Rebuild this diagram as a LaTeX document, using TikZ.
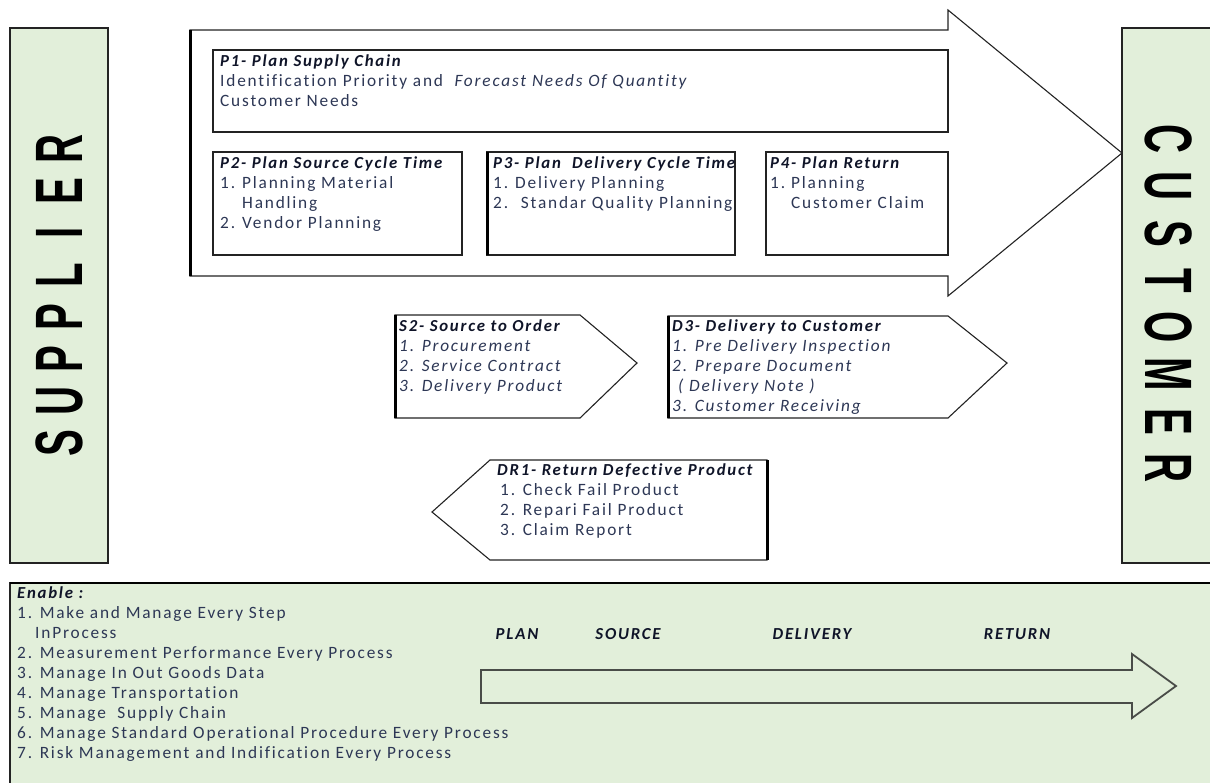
\documentclass[tikz,border=0pt]{standalone}
\usepackage{fontspec}
\usepackage{graphicx}
\newfontfamily\calib{Carlito}[LetterSpace=10.5, Ligatures=NoCommon]
\newfontfamily\bigsans{Liberation Sans}
\definecolor{panelgreen}{RGB}{226,239,218}
\definecolor{edgec}{RGB}{35,35,35}
\definecolor{bodyc}{RGB}{45,55,85}
\definecolor{headc}{RGB}{15,20,40}
\newcommand\hd[1]{{\fontsize{16.8}{20}\selectfont\bfseries\itshape\color{headc}#1}}
\newcommand\bigletter[2]{\makebox[#1]{\scalebox{0.6}[1]{#2}}}
\begin{document}
\begin{tikzpicture}[x=1pt,y=-1pt,
  panel/.style={draw=edgec, line width=1.3pt},
  thickedge/.style={draw=black, line width=3pt},
  txt/.style={font=\calib\fontsize{17.3}{20}\selectfont, text=bodyc, align=left, anchor=north west, inner sep=0pt},
  itxt/.style={txt, font=\calib\fontsize{17.3}{20}\selectfont\itshape},
  lbl/.style={font=\calib\fontsize{16.8}{20}\selectfont\bfseries\itshape, text=headc, inner sep=0pt},
  party/.style={font=\bigsans\fontsize{67}{67}\selectfont\bfseries, text=black, inner sep=0pt}]
\useasboundingbox (0,0) rectangle (1210,782);
\clip (0,0) rectangle (1210,782);

% side panels
\draw[panel, fill=panelgreen] (10,28) rectangle (108,563);
\node[party, rotate=90] (supplier) at (59,296)
  {\bigletter{42pt}{S}\bigletter{42pt}{U}\bigletter{42pt}{P}\bigletter{42pt}{P}\bigletter{42pt}{L}\bigletter{42pt}{I}\bigletter{42pt}{E}\bigletter{42pt}{R}};
\draw[panel, fill=panelgreen] (1122,28) rectangle (1220,563);
\node[party, rotate=-90] (customer) at (1169,304)
  {\bigletter{47pt}{C}\bigletter{47pt}{U}\bigletter{47pt}{S}\bigletter{47pt}{T}\bigletter{47pt}{O}\bigletter{47pt}{M}\bigletter{47pt}{E}\bigletter{47pt}{R}};

% planning arrow
\draw[panel, line width=1.1pt, fill=white] (190,30) -- (948,30) -- (948,10) -- (1122,153)
  -- (948,296) -- (948,276) -- (190,276) -- cycle;
\draw[thickedge] (190,30) -- (190,276);

% plan boxes
\draw[panel] (213,50) rectangle (948,132);
\node[txt] (p1) at (220,55) {\hd{P1- Plan Supply Chain}\\
  Identification Priority and \ \textit{Forecast Needs Of Quantity}\\
  Customer Needs};

\draw[panel] (213,152) rectangle (462,255);
\node[txt] (p2) at (220,157) {\hd{P2- Plan Source Cycle Time}\\
  \makebox[22pt][l]{1.}Planning Material\\
  \hspace*{22pt}Handling\\
  \makebox[22pt][l]{2.}Vendor Planning};

\draw[panel] (487,152) rectangle (735,255);
\draw[thickedge] (487,152) -- (487,255);
\node[txt] (p3) at (493,157) {\hd{P3- Plan \ Delivery Cycle Time}\\
  \makebox[22pt][l]{1.}Delivery Planning\\
  \makebox[22pt][l]{2.} Standar Quality Planning};

\draw[panel] (766,152) rectangle (948,255);
\node[txt] (p4) at (770,157) {\hd{P4- Plan Return}\\
  \makebox[21pt][l]{1.}Planning\\
  \hspace*{21pt}Customer Claim};

% process arrows
\draw[panel, line width=1.1pt, fill=white] (395,315) -- (580,315) -- (637,363) -- (580,418) -- (395,418) -- cycle;
\draw[thickedge] (395,315) -- (395,418);
\node[itxt] (s2) at (399,320) {\hd{S2- Source to Order}\\
  1. Procurement\\
  2. Service Contract\\
  3. Delivery Product};

\draw[panel, line width=1.1pt, fill=white] (668,316) -- (948,316) -- (1007,363) -- (948,418) -- (668,418) -- cycle;
\draw[thickedge] (668,316) -- (668,418);
\node[itxt] (d3) at (672,320) {\hd{D3- Delivery to Customer}\\
  1. Pre Delivery Inspection\\
  2. Prepare Document\\
  \hspace*{6pt}( Delivery Note )\\
  3. Customer Receiving};

\draw[panel, line width=1.1pt, fill=white] (490,460) -- (767,460) -- (767,560) -- (490,560) -- (432,512) -- cycle;
\draw[thickedge] (767,460) -- (767,560);
\node[txt] (dr1) at (497,464) {\hd{DR1- Return Defective Product}\\
  \hspace*{3pt}1. Check Fail Product\\
  \hspace*{3pt}2. Repari Fail Product\\
  \hspace*{3pt}3. Claim Report};

% enablers panel
\draw[panel, fill=panelgreen] (10,583) rectangle (1220,800);
\draw[thickedge, line width=2.5pt] (10,583) -- (1220,583);
\node[txt] (enable) at (17,587) {\hd{Enable :}\\
  1. Make and Manage Every Step\\
  \hspace*{18pt}InProcess\\
  2. Measurement Performance Every Process\\
  3. Manage In Out Goods Data\\
  4. Manage Transportation\\
  5. Manage \ Supply Chain\\
  6. Manage Standard Operational Procedure Every Process\\
  7. Risk Management and Indification Every Process};

\node[lbl] (plan) at (517,634) {PLAN};
\node[lbl] (source) at (628,634) {SOURCE};
\node[lbl] (delivery) at (812,634) {DELIVERY};
\node[lbl] (return) at (1017,634) {RETURN};

\draw[draw=edgec!80!panelgreen, line width=1.8pt, fill=panelgreen] (481,670) -- (1132,670) -- (1132,654)
  -- (1176,686) -- (1132,718) -- (1132,703) -- (481,703) -- cycle;
\end{tikzpicture}
\end{document}
